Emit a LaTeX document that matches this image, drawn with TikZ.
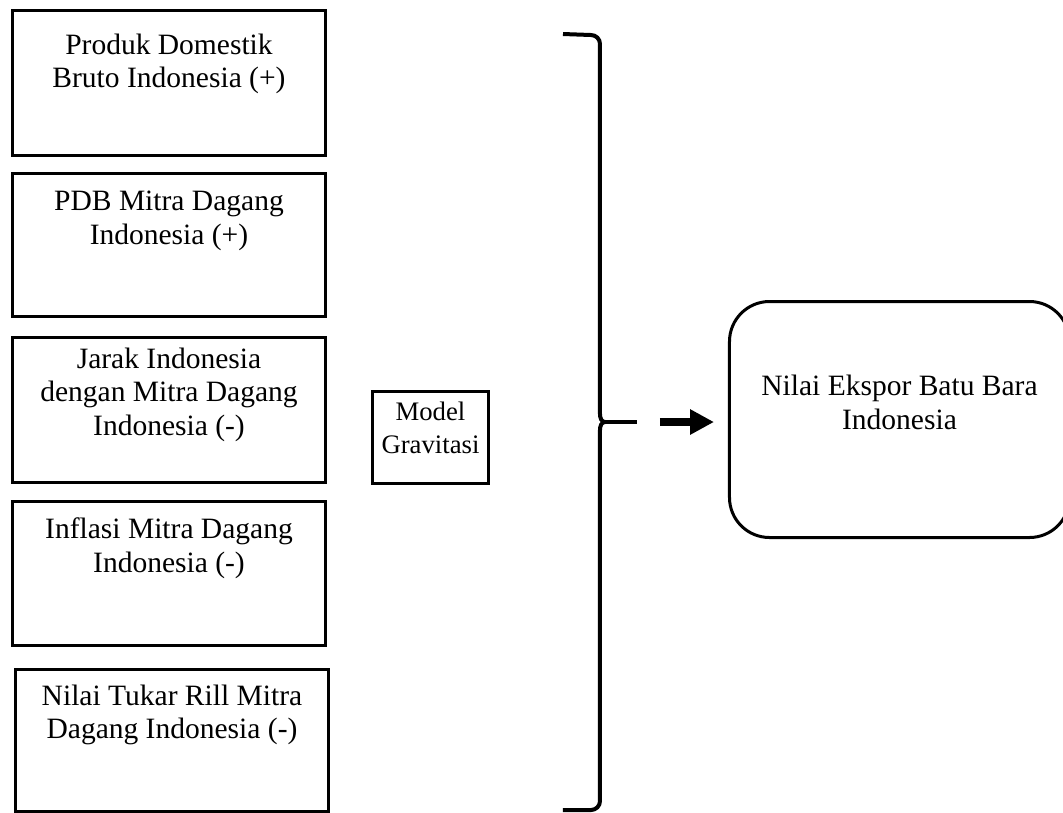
\documentclass[tikz,border=0pt]{standalone}
\usepackage{fontspec}
\setmainfont{Liberation Serif}
\usetikzlibrary{arrows.meta,positioning}
\tikzset{
  varblk/.style={draw,rectangle,line width=0.3mm,minimum width=31.3mm,minimum height=14.5mm,inner sep=0pt},
  modblk/.style={varblk,minimum width=11.6mm,minimum height=9.2mm},
  resblk/.style={varblk,rounded corners=4mm,minimum width=34mm,minimum height=23.6mm},
  lbl/.style={font=\fontsize{8.4}{9.6}\selectfont,align=center,inner sep=0pt},
  brc/.style={line width=0.4mm},
  arr/.style={-{Triangle[length=2.4mm,width=2.4mm]},line width=0.75mm}
}

\begin{document}
\begin{tikzpicture}[x=0.1mm,y=-0.1mm]
  \useasboundingbox (0,0) rectangle (1063,812);

  % variabel gravitasi
  \node[varblk,anchor=north west] (pdb) at (11,9) {};
  \node[varblk,anchor=north west,minimum height=14.3mm] (mitra) at (11,172) {};
  \node[varblk,anchor=north west] (jarak) at (11,336) {};
  \node[varblk,anchor=north west,minimum height=14.4mm] (inflasi) at (11,500) {};
  \node[varblk,anchor=north west,minimum height=14.2mm] (tukar) at (14,668) {};

  \node[lbl,below=2.4mm of pdb.north] (pdbtxt) {Produk Domestik\\Bruto Indonesia (+)};
  \node[lbl,below=1.8mm of mitra.north] (mitratxt) {PDB Mitra Dagang\\Indonesia (+)};
  \node[lbl,below=1.1mm of jarak.north] (jaraktxt) {Jarak Indonesia\\dengan Mitra Dagang\\Indonesia (-)};
  \node[lbl,below=1.7mm of inflasi.north] (inflasitxt) {Inflasi Mitra Dagang\\Indonesia (-)};
  \node[lbl,below=1.6mm of tukar.north] (tukartxt) {Nilai Tukar Rill Mitra\\Dagang Indonesia (-)};

  % model
  \node[modblk,anchor=north west] (model) at (371,390) {};
  \node[lbl,font=\fontsize{7.6}{9.4}\selectfont,below=1.1mm of model.north] (modeltxt) {Model\\Gravitasi};

  % hasil
  \node[resblk,anchor=north west] (res) at (728,300) {};
  \node[lbl,font=\fontsize{8.4}{9.8}\selectfont,below=7.4mm of res.north] (restxt) {Nilai Ekspor Batu Bara\\Indonesia};

  % kurung kurawal
  \coordinate (tip) at (637,422);
  \draw[brc] (563,34) -- (591,35) to[out=0,in=90] (600,44) -- (600,414)
    to[out=-90,in=180] (605,422) to[out=180,in=90] (600,430) -- (600,801)
    to[out=-90,in=0] (591,810) -- (563,810);
  \draw[brc] (605,422) -- (tip);
  \draw[arr,shorten <=2.3mm,shorten >=1.4mm] (tip) -- (tip -| res.west);
\end{tikzpicture}
\end{document}
